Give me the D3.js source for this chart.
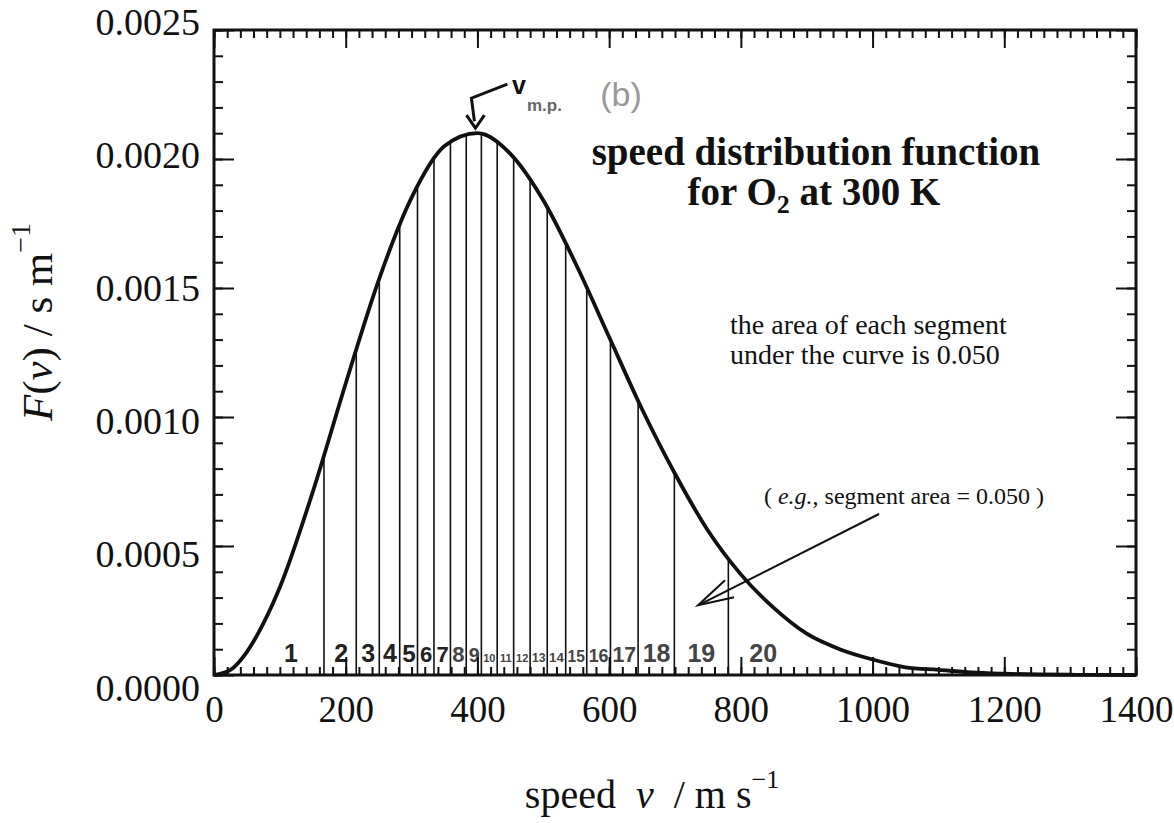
<!DOCTYPE html>
<html>
<head>
<meta charset="utf-8">
<script src="https://cdn.jsdelivr.net/npm/d3@7"></script>
<style>
body { margin: 0; background: #fff; }
svg text { font-family: "Liberation Serif", "Times New Roman", serif; fill: #111; white-space: pre; }
</style>
</head>
<body>
<svg id="chart" width="1174" height="823"></svg>
<script>
// F(v) for O2 at 300 K (speed in m/s, F in s/m)
const speeds = [0, 25, 50, 75, 100, 150, 200, 250, 300, 350, 400, 450, 500, 550, 600, 650,
	700, 750, 800, 850, 900, 950, 1000, 1050, 1100, 1150, 1200, 1300, 1400];
const density = [0, 0.00002, 0.00009, 0.0002, 0.00034, 0.00071, 0.00113, 0.00153, 0.00185, 0.00205,
	0.00210, 0.00202, 0.00184, 0.00159, 0.00131, 0.00103, 0.00078, 0.00056, 0.00039, 0.00026,
	0.00016, 0.0001, 0.00006, 0.00003, 0.00002, 0.00001, 0.000005, 0.000001, 0];

// speeds of the 19 dividers (each strip holds area 0.050)
const segmentEdges = [167, 216, 251, 282, 309, 334, 359, 383, 406, 430, 455, 480, 506, 534,
	566, 602, 644, 699, 781];
// hand written strip numbers and where they sit
const segmentNumbers = ["1", "2", "3", "4", "5", "6", "7", "8", "9", "10", "11", "12", "13",
	"14", "15", "16", "17", "18", "19", "20"];
const segmentNumberSpeeds = [117, 193, 234, 267, 296, 322, 347, 371, 395, 418, 443, 468, 493,
	520, 550, 584, 623, 672, 740, 834];

const xTickValues = [0, 200, 400, 600, 800, 1000, 1200, 1400];
const yTickValues = [0, 0.0005, 0.0010, 0.0015, 0.0020, 0.0025];
const yTickLabels = ["0.0000", "0.0005", "0.0010", "0.0015", "0.0020", "0.0025"];

const svg = d3.select('#chart');
const plotLeft = 214, plotRight = 1136, plotTop = 30, plotBottom = 675;

const x = d3.scaleLinear().domain([0, 1400]).range([plotLeft, plotRight]);
const y = d3.scaleLinear().domain([0, 0.0025]).range([plotBottom, plotTop]);
// the printed y labels are spread a little wider than the ticks
const yLabel = d3.scaleLinear().domain([0, 0.0025]).range([688, 22]);

// curve
const pts = speeds.map((s, i) => [s, density[i]]);
const line = d3.line()
	.x(d => x(d[0]))
	.y(d => y(d[1]))
	.curve(d3.curveMonotoneX);

const curve = svg.append('path')
	.datum(pts)
	.attr('d', line)
	.attr('fill', 'none')
	.attr('stroke', '#111')
	.attr('stroke-width', 3.8)
	.attr('stroke-linejoin', 'round');

// find y of the drawn curve at a given pixel x
const node = curve.node();
const total = node.getTotalLength();
function curveYAt(px) {
	let lo = 0, hi = total;
	for (let k = 0; k < 40; k++) {
		const mid = (lo + hi) / 2;
		if (node.getPointAtLength(mid).x < px) lo = mid;
		else hi = mid;
	}
	return node.getPointAtLength(lo).y;
}

// strip dividers
svg.append('g').selectAll('line')
	.data(segmentEdges)
	.join('line')
	.attr('x1', d => x(d)).attr('x2', d => x(d))
	.attr('y1', y(0))
	.attr('y2', d => curveYAt(x(d)))
	.attr('stroke', '#111')
	.attr('stroke-width', 1.6);

// strip numbers (hand written in the original); shrink them to fit the narrow strips
const edgesAll = [0].concat(segmentEdges, [1400]);
svg.append('g').selectAll('text')
	.data(segmentNumbers)
	.join('text')
	.attr('x', (d, i) => x(segmentNumberSpeeds[i]))
	.attr('y', 662)
	.attr('text-anchor', 'middle')
	.style('font-family', '"Liberation Sans", Arial, sans-serif')
	.style('font-weight', 'bold')
	.style('fill', (d, i) => i > 6 ? '#444' : '#222')
	.style('font-size', (d, i) => {
		const p = x(segmentNumberSpeeds[i]);
		const room = 2 * Math.min(p - x(edgesAll[i]), x(edgesAll[i + 1]) - p) - 3;
		return Math.min(25, room / (d.length * 0.58)) + 'px';
	})
	.text(d => d);

// ticks, pointing inward on all four sides
const minorX = d3.range(0, 1401, 20);
const minorY = d3.range(0, 26).map(i => i * 0.0001);
function tickAxis(axis, pos, vals, size) {
	const g = svg.append('g')
		.attr('transform', pos)
		.call(axis.tickValues(vals).tickSize(-size).tickFormat(''));
	g.select('.domain').remove();
	g.selectAll('line').attr('stroke', '#111').attr('stroke-width', 2);
}
tickAxis(d3.axisBottom(x), `translate(0,${plotBottom})`, minorX, 8);
tickAxis(d3.axisBottom(x), `translate(0,${plotBottom})`, xTickValues, 18);
tickAxis(d3.axisTop(x), `translate(0,${plotTop})`, minorX, 8);
tickAxis(d3.axisTop(x), `translate(0,${plotTop})`, xTickValues, 18);
tickAxis(d3.axisLeft(y), `translate(${plotLeft},0)`, minorY, 9);
tickAxis(d3.axisLeft(y), `translate(${plotLeft},0)`, yTickValues, 20);
tickAxis(d3.axisRight(y), `translate(${plotRight},0)`, minorY, 9);
tickAxis(d3.axisRight(y), `translate(${plotRight},0)`, yTickValues, 20);

// frame
svg.append('rect')
	.attr('x', plotLeft).attr('y', plotTop)
	.attr('width', plotRight - plotLeft).attr('height', plotBottom - plotTop)
	.attr('fill', 'none')
	.attr('stroke', '#111')
	.attr('stroke-width', 3);

// tick labels
const xl = svg.append('g')
	.attr('transform', `translate(0,${plotBottom})`)
	.call(d3.axisBottom(x).tickValues(xTickValues).tickSize(0).tickPadding(21).tickFormat(d3.format('d')));
xl.select('.domain').remove();
xl.selectAll('text').style('font-size', '37px').style('font-family', '"Liberation Serif", serif').attr('fill', '#111');

const yl = svg.append('g')
	.attr('transform', `translate(${plotLeft - 14},0)`)
	.call(d3.axisLeft(yLabel).tickValues(yTickValues).tickSize(0).tickPadding(0)
		.tickFormat((d, i) => yTickLabels[i]));
yl.select('.domain').remove();
yl.selectAll('text').style('font-size', '38px').style('font-family', '"Liberation Serif", serif').attr('fill', '#111');

// axis titles
const xt = svg.append('text')
	.attr('x', 652).attr('y', 808)
	.attr('text-anchor', 'middle')
	.style('font-size', '40px');
xt.append('tspan').text('speed  ');
xt.append('tspan').style('font-style', 'italic').text('v');
xt.append('tspan').text('  / m s');
xt.append('tspan').attr('dy', -20).style('font-size', '26px').text('\u22121');

const yt = svg.append('text')
	.attr('transform', 'translate(52,322) rotate(-90)')
	.attr('text-anchor', 'middle')
	.style('font-size', '43px');
yt.append('tspan').style('font-style', 'italic').text('F');
yt.append('tspan').text('(');
yt.append('tspan').style('font-style', 'italic').text('v');
yt.append('tspan').text(') / s m');
yt.append('tspan').attr('dy', -22).style('font-size', '28px').text('\u22121');

// title inside the plot
svg.append('text')
	.attr('x', 816).attr('y', 165)
	.attr('text-anchor', 'middle')
	.style('font-size', '39px').style('font-weight', 'bold')
	.text('speed distribution function');
const t2 = svg.append('text')
	.attr('x', 814).attr('y', 205)
	.attr('text-anchor', 'middle')
	.style('font-size', '39px').style('font-weight', 'bold');
t2.append('tspan').text('for O');
t2.append('tspan').attr('dy', 8).style('font-size', '26px').text('2');
t2.append('tspan').attr('dy', -8).text(' at 300 K');

// note on the right
svg.append('text').attr('x', 730).attr('y', 334).style('font-size', '28px')
	.text('the area of each segment');
svg.append('text').attr('x', 730).attr('y', 364).style('font-size', '28px')
	.text('under the curve is 0.050');

const eg = svg.append('text')
	.attr('x', 904).attr('y', 504)
	.attr('text-anchor', 'middle')
	.style('font-size', '24px');
eg.append('tspan').text('( ');
eg.append('tspan').style('font-style', 'italic').text('e.g.');
eg.append('tspan').text(', segment area = 0.050 )');

// arrow to strip 19
const tipX = x(735), tipY = y(0.00027);
svg.append('line')
	.attr('x1', 879).attr('y1', 514).attr('x2', tipX).attr('y2', tipY)
	.attr('stroke', '#111').attr('stroke-width', 2);
svg.append('path')
	.attr('d', `M${tipX + 27},${tipY - 25} L${tipX},${tipY} L${tipX + 36},${tipY - 8}`)
	.attr('fill', 'none').attr('stroke', '#111').attr('stroke-width', 2);

// hand written v_mp marker over the peak
const peakX = x(400), peakY = y(0.0021);
svg.append('path')
	.attr('d', `M${peakX + 30},${peakY - 49} L${peakX - 6},${peakY - 35} L${peakX - 3},${peakY - 12}`)
	.attr('fill', 'none').attr('stroke', '#111').attr('stroke-width', 3);
svg.append('path')
	.attr('d', `M${peakX - 11},${peakY - 18} L${peakX - 2},${peakY - 5} L${peakX + 7},${peakY - 18}`)
	.attr('fill', 'none').attr('stroke', '#111').attr('stroke-width', 3);
svg.append('text')
	.attr('x', 512).attr('y', 94)
	.style('font-family', '"Liberation Sans", Arial, sans-serif')
	.style('font-weight', 'bold').style('font-size', '25px')
	.text('v');
svg.append('text')
	.attr('x', 527).attr('y', 111)
	.style('font-family', '"Liberation Sans", Arial, sans-serif')
	.style('font-weight', 'bold').style('font-size', '17px')
	.style('fill', '#666')
	.text('m.p.');
svg.append('text')
	.attr('x', 621).attr('y', 106)
	.attr('text-anchor', 'middle')
	.style('font-family', '"Liberation Sans", Arial, sans-serif')
	.style('font-size', '34px')
	.style('fill', '#999')
	.text('(b)');
</script>
</body>
</html>
